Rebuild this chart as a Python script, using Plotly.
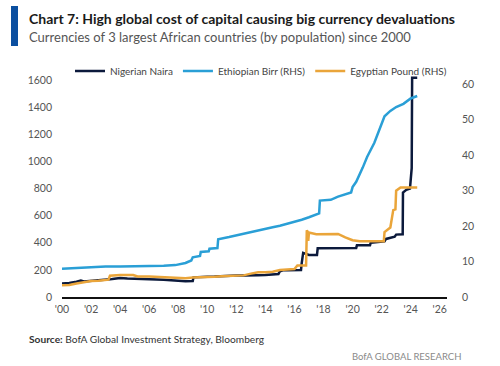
import plotly.graph_objects as go

# ---------------- data ----------------
naira_x = [2000.0, 2000.5, 2001.0, 2001.3, 2001.5, 2002.0, 2002.5, 2003.0, 2003.3, 2003.6, 2004.0,
           2004.5, 2005.0, 2005.5, 2006.0, 2006.5, 2007.0, 2007.5, 2008.0, 2008.5, 2009.0, 2009.05,
           2009.5, 2010.0, 2010.5, 2011.0, 2011.5, 2012.0, 2012.5, 2013.0, 2013.5, 2014.0, 2014.5,
           2014.9, 2015.0, 2015.2, 2015.5, 2016.0, 2016.45, 2016.5, 2016.6, 2017.0, 2017.55, 2017.6,
           2018.5, 2019.5, 2020.25, 2020.3, 2021.2, 2021.25, 2022.2, 2022.3, 2022.9, 2023.0, 2023.45,
           2023.47, 2023.7, 2023.95, 2024.0, 2024.07, 2024.1, 2024.45]
naira_y = [100, 103, 112, 122, 115, 118, 125, 128, 130, 135, 140,
           136, 133, 132, 130, 129, 127, 126, 120, 117, 118, 145,
           150, 150, 151, 155, 157, 158, 158, 157, 160, 162, 164,
           170, 190, 197, 197, 199, 199, 250, 325, 310, 310, 359,
           360, 361, 362, 381, 381, 400, 410, 428, 445, 460, 462,
           770, 790, 800, 900, 950, 1617, 1617]

birr_x = [2000.0, 2001.0, 2002.0, 2003.0, 2004.0, 2005.0, 2006.0, 2007.0, 2007.8, 2008.5, 2008.9,
          2009.0, 2009.5, 2009.55, 2010.1, 2010.15, 2010.7, 2010.75, 2011.5, 2012.0, 2012.9, 2013.5,
          2014.0, 2014.5, 2015.0, 2015.5, 2016.0, 2016.5, 2017.0, 2017.7, 2017.75, 2018.5, 2019.0,
          2019.5, 2019.9, 2020.0, 2020.25, 2020.7, 2021.0, 2021.5, 2021.9, 2022.2, 2022.6, 2023.0,
          2023.5, 2024.0, 2024.45]
birr_y = [8.0, 8.2, 8.5, 8.6, 8.6, 8.65, 8.7, 8.8, 9.0, 9.6, 10.3,
          11.2, 11.6, 12.7, 12.9, 13.6, 13.8, 16.3, 16.9, 17.4, 18.3, 18.8,
          19.3, 19.7, 20.1, 20.6, 21.2, 21.8, 22.5, 23.6, 27.2, 27.4, 28.3,
          29.0, 29.5, 31.0, 32.5, 36.5, 39.5, 43.5, 48.0, 51.0, 52.5, 53.6,
          54.5, 56.0, 56.7]

egp_x = [2000.0, 2000.5, 2001.0, 2001.5, 2002.0, 2002.5, 2003.2, 2003.3, 2004.0, 2004.9, 2005.2,
         2006.0, 2007.0, 2008.0, 2008.5, 2009.0, 2009.5, 2010.0, 2010.5, 2011.0, 2011.5, 2012.0,
         2012.5, 2013.0, 2013.5, 2014.0, 2014.5, 2015.0, 2015.5, 2016.0, 2016.2, 2016.8, 2016.85,
         2016.9, 2016.95, 2017.0, 2017.5, 2018.0, 2018.5, 2019.0, 2019.5, 2020.0, 2020.5, 2021.0,
         2021.5, 2022.15, 2022.2, 2022.6, 2022.8, 2022.95, 2023.0, 2023.3, 2024.45]
egp_y = [3.3, 3.4, 3.8, 4.2, 4.5, 4.6, 4.9, 6.0, 6.2, 6.2, 5.8,
         5.75, 5.65, 5.5, 5.3, 5.5, 5.55, 5.5, 5.7, 5.85, 5.95, 6.05,
         6.1, 6.6, 7.0, 7.0, 7.15, 7.6, 7.8, 7.9, 8.9, 8.9, 18.8,
         18.5, 15.8, 18.2, 17.7, 17.7, 17.9, 17.8, 16.8, 16.0, 15.7, 15.7,
         15.7, 15.7, 18.3, 19.6, 24.5, 24.7, 30.0, 30.9, 30.9]

x_tick_vals = list(range(2000, 2027, 2))
x_tick_text = ["'00", "'02", "'04", "'06", "'08", "'10", "'12", "'14", "'16", "'18", "'20", "'22", "'24", "'26"]
left_ticks = [0, 200, 400, 600, 800, 1000, 1200, 1400, 1600]
right_ticks = [0, 10, 20, 30, 40, 50, 60]

NAVY = "#0c1a3c"
BLUE = "#2a9fd6"
ORANGE = "#eaa53a"

W, H = 500, 366
L, R, T, B = 62, 447, 75, 297
pw, ph = R - L, B - T


def px(x):
    return (x - L) / pw


def py(y):
    return (B - y) / ph


fig = go.Figure()
fig.add_trace(go.Scatter(x=naira_x, y=naira_y, name="Nigerian Naira", mode="lines",
                         line=dict(color=NAVY, width=2.5), yaxis="y"))
fig.add_trace(go.Scatter(x=birr_x, y=birr_y, name="Ethiopian Birr (RHS)", mode="lines",
                         line=dict(color=BLUE, width=2.5), yaxis="y2"))
fig.add_trace(go.Scatter(x=egp_x, y=egp_y, name="Egyptian Pound (RHS)", mode="lines",
                         line=dict(color=ORANGE, width=2.5), yaxis="y2"))

tickfont = dict(family="Lato, Open Sans, sans-serif", size=10.5, color="#555555")

fig.update_layout(
    width=W, height=H,
    margin=dict(l=L, r=W - R, t=T, b=H - B, pad=0),
    paper_bgcolor="white", plot_bgcolor="white",
    showlegend=True,
    legend=dict(orientation="h", x=px(70), xanchor="left", y=py(71), yanchor="middle",
                font=dict(family="Lato, sans-serif", size=10, color="#444444"),
                bgcolor="rgba(0,0,0,0)", itemclick=False, tracegroupgap=0),
    xaxis=dict(range=[2000, 2026.5], tickvals=x_tick_vals, ticktext=x_tick_text,
               showgrid=False, zeroline=False, showline=True, linecolor="#111111", linewidth=1.5,
               ticks="", tickfont=tickfont, ticklabelstandoff=2),
    yaxis=dict(range=[0, 1600 * ph / (B - 80)], tickvals=left_ticks, showgrid=False, zeroline=False,
               showline=False, ticks="", tickfont=tickfont, ticklabelstandoff=9),
    yaxis2=dict(range=[0, 60 * ph / (B - 84.3)], tickvals=right_ticks, overlaying="y", side="right",
                showgrid=False, zeroline=False, showline=False, ticks="", tickfont=tickfont,
                ticklabelstandoff=14),
    font=dict(family="Lato, sans-serif"),
)

fig.add_shape(type="rect", xref="paper", yref="paper", x0=px(11), x1=px(18), y0=py(46), y1=py(6),
              fillcolor="#0b4fa0", line=dict(width=0))

anns = [
    dict(x=px(27), y=py(19), text="<b>Chart 7: High global cost of capital causing big currency devaluations</b>",
         font=dict(family="Lato, sans-serif", size=14.0, color="#1a1a1a")),
    dict(x=px(27), y=py(37), text="Currencies of 3 largest African countries (by population) since 2000",
         font=dict(family="Lato, sans-serif", size=13.0, color="#555555")),
    dict(x=px(27), y=py(339), text="<b>Source:</b> BofA Global Investment Strategy, Bloomberg",
         font=dict(family="Lato, sans-serif", size=10.2, color="#333333")),
]
for a in anns:
    fig.add_annotation(xref="paper", yref="paper", xanchor="left", yanchor="middle", showarrow=False, **a)
fig.add_annotation(xref="paper", yref="paper", x=px(463), y=py(356), xanchor="right", yanchor="middle",
                   showarrow=False, text="BofA GLOBAL RESEARCH",
                   font=dict(family="Lato, sans-serif", size=9.5, color="#8a8a8a"))

fig.write_html("out.html", config={"displayModeBar": False},
               post_script="document.body.style.margin='0';document.body.style.padding='0';")
